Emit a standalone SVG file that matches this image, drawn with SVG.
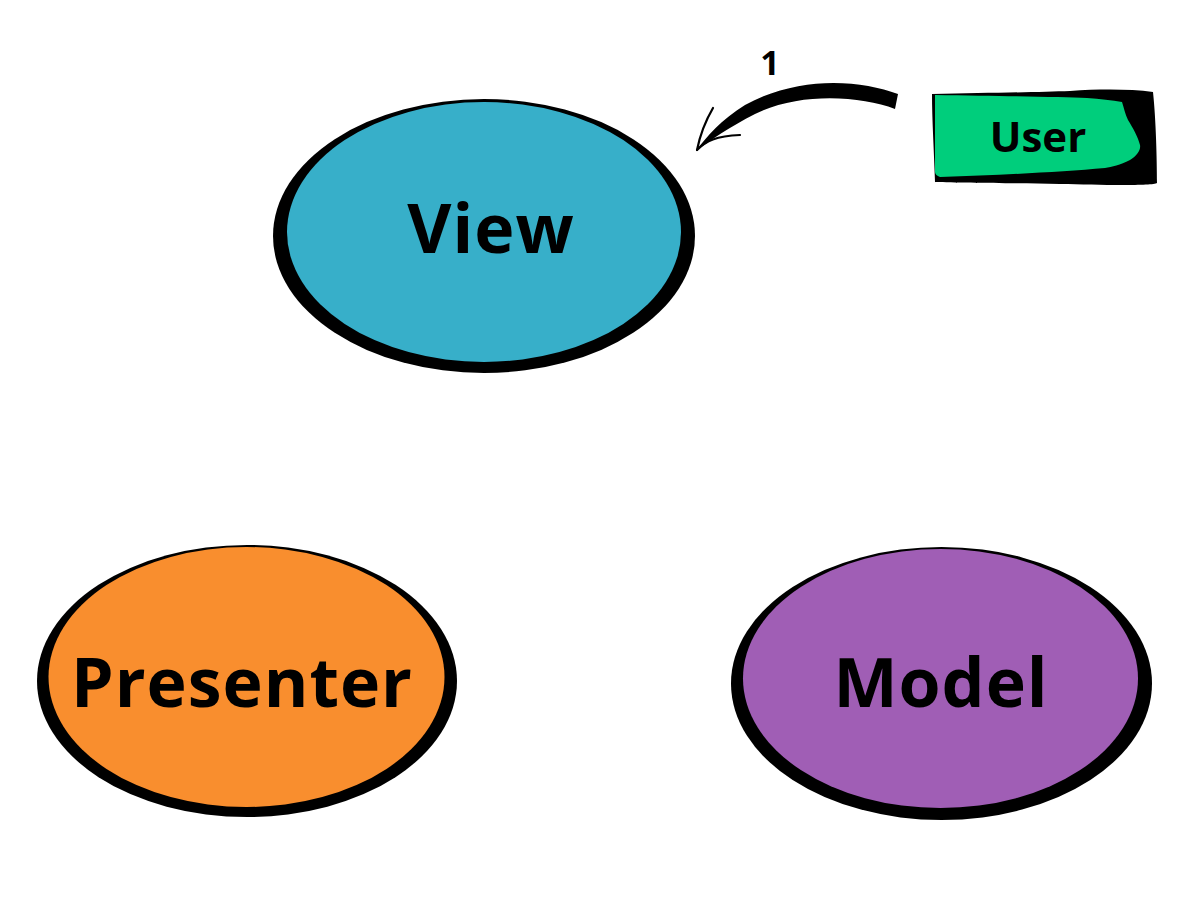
<svg xmlns="http://www.w3.org/2000/svg" width="1200" height="900" viewBox="0 0 1200 900">
<style>
.lbl{font-family:"Open Sans","Noto Sans","DejaVu Sans",sans-serif;font-weight:700;fill:#000;text-anchor:middle}
.big{font-size:68px;letter-spacing:1px}
.rim{fill:#000}
.barb{fill:none;stroke:#000;stroke-width:2.2;stroke-linecap:round}
</style>
<rect width="1200" height="900" fill="#fff"/>
<g id="view">
<ellipse class="rim" cx="484" cy="236" rx="211" ry="137"/>
<ellipse cx="484" cy="232" rx="197" ry="130" fill="#37AFC9"/>
<text class="lbl big" x="491" y="253">View</text>
</g>
<g id="presenter">
<ellipse class="rim" cx="247" cy="681" rx="210" ry="136"/>
<ellipse cx="246.5" cy="677" rx="198" ry="130" fill="#F98E2E"/>
<text class="lbl big" x="242" y="707">Presenter</text>
</g>
<g id="model">
<ellipse class="rim" cx="941.5" cy="683.5" rx="210.5" ry="136.5"/>
<ellipse cx="940.5" cy="678.5" rx="197.5" ry="129.5" fill="#A05EB5"/>
<text class="lbl big" x="941" y="707">Model</text>
</g>
<g id="user">
<path class="rim" d="M932 94 C990 93 1040 92 1070 91 C1100 89 1130 89 1153 92 C1156 120 1157 160 1157 183 C1153 186 1100 185 1060 184 C1010 183 960 183 935 182 C934 150 932 120 932 94 Z"/>
<path fill="#00CE7C" d="M935 95 C1000 96 1060 97 1087 98 C1100 99 1112 100 1122 102 C1124 108 1125 114 1128 120 C1133 128 1138 137 1140 145 C1141 150 1137 156 1130 160 C1120 165 1112 167 1105 168 C1060 172 1000 175 940 177 C937 176 935 174 935 172 Z"/>
<text class="lbl" x="1038" y="152" font-size="42">User</text>
</g>
<g id="connectors">
<path fill="#000" d="M898 94 C860 80 800 75 745 105 C722 119 706 137 696 151 C710 140 730 127 755 114 C800 92 860 96 895 109 Z"/>
<path class="barb" d="M697 150 C700 135 706 120 713 108"/>
<path class="barb" d="M697 150 C706 141 716 136 740 135"/>
<text class="lbl" x="770" y="75" font-size="34">1</text>
</g>
</svg>
